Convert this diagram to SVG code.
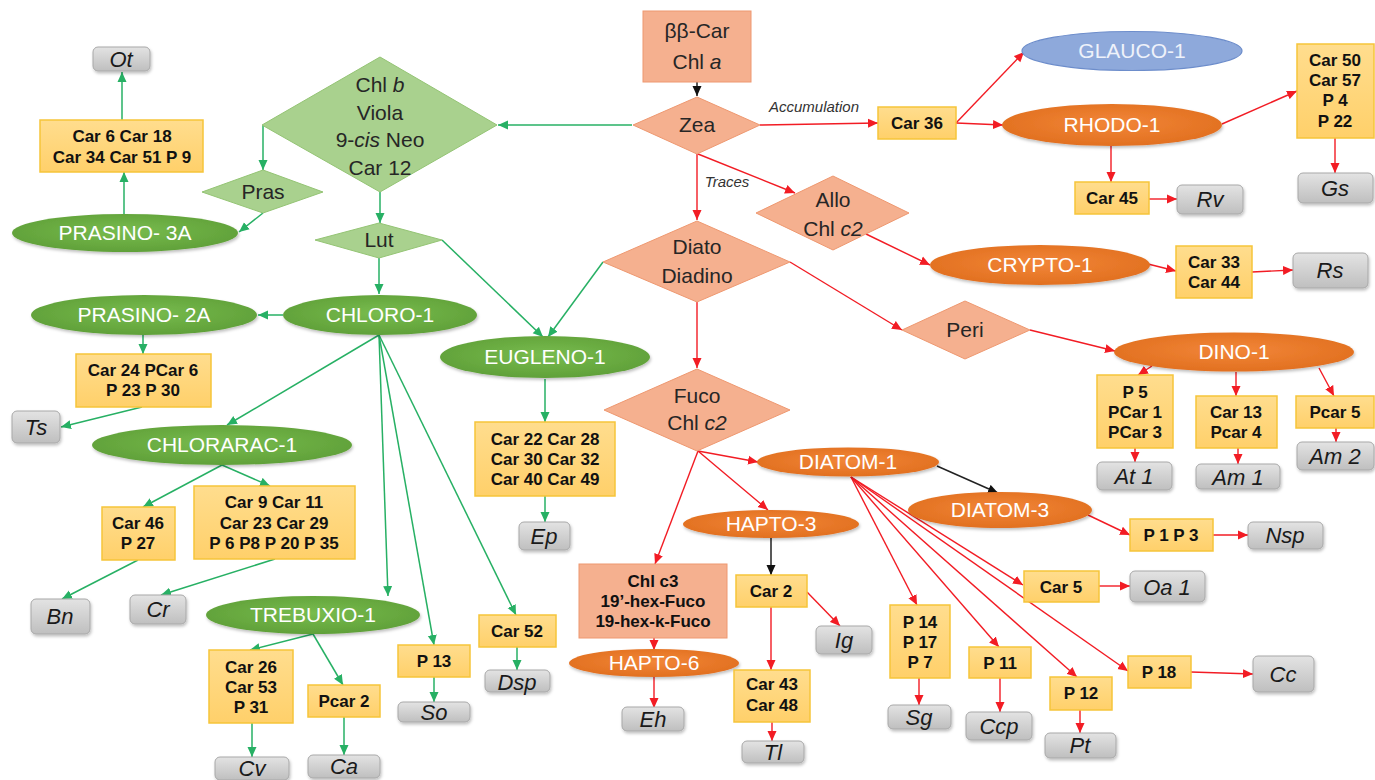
<svg xmlns="http://www.w3.org/2000/svg" width="1375" height="780" viewBox="0 0 1375 780">
<defs>
<radialGradient id="gG" cx="50%" cy="45%" r="60%"><stop offset="0" stop-color="#78BC4E"/><stop offset="1" stop-color="#5E9E37"/></radialGradient>
<radialGradient id="gO" cx="50%" cy="45%" r="60%"><stop offset="0" stop-color="#F28638"/><stop offset="1" stop-color="#E06E1E"/></radialGradient>
<linearGradient id="gY" x1="0" y1="0" x2="0" y2="1"><stop offset="0" stop-color="#FFDD8E"/><stop offset="1" stop-color="#FFD06A"/></linearGradient>
<linearGradient id="gR" x1="0" y1="0" x2="0" y2="1"><stop offset="0" stop-color="#E3E3E3"/><stop offset="1" stop-color="#BFBFBF"/></linearGradient>
<filter id="sh" x="-10%" y="-20%" width="120%" height="150%"><feDropShadow dx="1" dy="2" stdDeviation="1.5" flood-color="#000" flood-opacity="0.25"/></filter>
<marker id="ag" viewBox="0 0 10 10" refX="10" refY="5" markerWidth="10" markerHeight="10" markerUnits="userSpaceOnUse" orient="auto"><path d="M0,0.5 L10,5 L0,9.5 z" fill="#27B064"/></marker>
<marker id="ar" viewBox="0 0 10 10" refX="10" refY="5" markerWidth="10" markerHeight="10" markerUnits="userSpaceOnUse" orient="auto"><path d="M0,0.5 L10,5 L0,9.5 z" fill="#F21C24"/></marker>
<marker id="ak" viewBox="0 0 10 10" refX="10" refY="5" markerWidth="10" markerHeight="10" markerUnits="userSpaceOnUse" orient="auto"><path d="M0,0.5 L10,5 L0,9.5 z" fill="#111"/></marker>
<style>
.g{stroke:#27B064;stroke-width:1.5;fill:none;marker-end:url(#ag)}
.r{stroke:#F21C24;stroke-width:1.4;fill:none;marker-end:url(#ar)}
.k{stroke:#222;stroke-width:1.5;fill:none;marker-end:url(#ak)}
.gd{fill:#A9D18E;stroke:#94C474;stroke-width:1}
.sd{fill:#F5B08F;stroke:#EE9870;stroke-width:1}
.ge{fill:url(#gG);filter:url(#sh)}
.oe{fill:url(#gO);filter:url(#sh)}
.be{fill:#8EA9DB;stroke:#6D8DCB;stroke-width:1.2}
.yb{fill:url(#gY);stroke:#F6C53A;stroke-width:1.5}
.gb{fill:url(#gR);stroke:#A8A8A8;stroke-width:1;filter:url(#sh)}
text{font-family:"Liberation Sans",Arial,sans-serif;text-anchor:middle}
.td{font-size:21px;fill:#262626}
.te{font-size:21px;fill:#FFFFFF}
.ty{font-size:17px;font-weight:bold;fill:#111}
.tg{font-size:22px;font-style:italic;fill:#1A1A1A}
.tl{font-size:15px;font-style:italic;fill:#333}
.i{font-style:italic}
</style>
</defs>
<rect width="1375" height="780" fill="#FFFFFF"/>

<g id="connectors">
<path class="g" d="M632,125 L498,125"/>
<path class="g" d="M263,125 L263,170"/>
<path class="g" d="M263,213 L239,232"/>
<path class="g" d="M124,214 L124,172"/>
<path class="g" d="M122,120 L122,72"/>
<path class="g" d="M380,192 L380,223"/>
<path class="g" d="M379,258 L379,294"/>
<path class="g" d="M442,240 L543,337"/>
<path class="g" d="M603,262 L548,337"/>
<path class="g" d="M283,315 L258,315"/>
<path class="g" d="M143,335 L143,354"/>
<path class="g" d="M142,407 L61,427"/>
<path class="g" d="M379,335 L227,425"/>
<path class="g" d="M379,335 L388,596"/>
<path class="g" d="M379,335 L434,645"/>
<path class="g" d="M379,335 L516,615"/>
<path class="g" d="M222,465 L143,507"/>
<path class="g" d="M222,465 L270,486"/>
<path class="g" d="M138,560 L62,599"/>
<path class="g" d="M275,559 L161,595"/>
<path class="g" d="M313,634 L250,650"/>
<path class="g" d="M313,634 L343,685"/>
<path class="g" d="M252,723 L252,757"/>
<path class="g" d="M344,717 L344,755"/>
<path class="g" d="M434,677 L434,702"/>
<path class="g" d="M517,647 L517,670"/>
<path class="g" d="M545,379 L545,422"/>
<path class="g" d="M545,496 L545,522"/>

<path class="k" d="M697,82 L697,96"/>
<path class="k" d="M937,466 L998,493"/>
<path class="k" d="M771,538 L771,575"/>

<path class="r" d="M760,125 L878,123"/>
<path class="r" d="M697,154 L697,220"/>
<path class="r" d="M698,154 L795,193"/>
<path class="r" d="M866,234 L930,265"/>
<path class="r" d="M790,262 L902,330"/>
<path class="r" d="M697,302 L697,368"/>
<path class="r" d="M1030,330 L1115,351"/>
<path class="r" d="M698,451 L758,462"/>
<path class="r" d="M698,451 L768,510"/>
<path class="r" d="M698,451 L655,564"/>
<path class="r" d="M956,123 L1024,52"/>
<path class="r" d="M956,123 L1003,125"/>
<path class="r" d="M1222,124 L1297,91"/>
<path class="r" d="M1335,138 L1335,173"/>
<path class="r" d="M1111,146 L1111,182"/>
<path class="r" d="M1149,199 L1177,199"/>
<path class="r" d="M1148,264 L1176,271"/>
<path class="r" d="M1252,272 L1293,270"/>
<path class="r" d="M1152,366 L1138,375"/>
<path class="r" d="M1236,372 L1236,396"/>
<path class="r" d="M1319,368 L1334,396"/>
<path class="r" d="M1135,448 L1135,462"/>
<path class="r" d="M1238,448 L1238,464"/>
<path class="r" d="M1336,428 L1336,442"/>
<path class="r" d="M1088,515 L1130,535"/>
<path class="r" d="M1213,535 L1248,535"/>
<path class="r" d="M851,477 L917,605"/>
<path class="r" d="M851,477 L999,647"/>
<path class="r" d="M851,477 L1077,677"/>
<path class="r" d="M851,477 L1128,671"/>
<path class="r" d="M851,477 L1023,585"/>
<path class="r" d="M1099,586 L1130,586"/>
<path class="r" d="M919,678 L919,705"/>
<path class="r" d="M1000,678 L1000,712"/>
<path class="r" d="M1080,710 L1080,733"/>
<path class="r" d="M1191,672 L1253,674"/>
<path class="r" d="M807,592 L840,626"/>
<path class="r" d="M771,607 L771,670"/>
<path class="r" d="M772,722 L772,741"/>
<path class="r" d="M654,638 L654,650"/>
<path class="r" d="M654,677 L654,708"/>

<text class="tl" x="814" y="112">Accumulation</text>
<text class="tl" x="727" y="187">Traces</text>
</g>

<g id="n-bbcar"><rect x="643" y="11" width="108" height="71" class="sd"/><text class="td" x="697" y="38">ββ-Car</text><text class="td" x="697" y="69">Chl <tspan class="i">a</tspan></text></g>
<g id="n-zea"><polygon points="697,97 760,125 697,154 633,125" class="sd"/><text class="td" x="697" y="132">Zea</text></g>
<g id="n-chlb"><polygon points="380,57 497,125 380,192 262,125" class="gd"/><text class="td" x="380" y="92">Chl <tspan class="i">b</tspan></text><text class="td" x="380" y="120">Viola</text><text class="td" x="380" y="147">9-<tspan class="i">cis</tspan> Neo</text><text class="td" x="380" y="175">Car 12</text></g>
<g id="n-pras"><polygon points="263,170 323,192 263,213 202,192" class="gd"/><text class="td" x="263" y="199">Pras</text></g>
<g id="n-lut"><polygon points="379,223 442,240 379,258 315,240" class="gd"/><text class="td" x="379" y="247">Lut</text></g>
<g id="n-allo"><polygon points="833,176 909,213 833,250 756,213" class="sd"/><text class="td" x="833" y="207">Allo</text><text class="td" x="833" y="236">Chl <tspan class="i">c2</tspan></text></g>
<g id="n-diato"><polygon points="697,221 790,262 697,302 603,262" class="sd"/><text class="td" x="697" y="254">Diato</text><text class="td" x="697" y="283">Diadino</text></g>
<g id="n-fuco"><polygon points="697,369 790,410 697,451 604,410" class="sd"/><text class="td" x="697" y="403">Fuco</text><text class="td" x="697" y="430">Chl <tspan class="i">c2</tspan></text></g>
<g id="n-peri"><polygon points="965,301 1030,330 965,359 902,330" class="sd"/><text class="td" x="965" y="337">Peri</text></g>

<g id="n-prasino3a"><ellipse cx="125" cy="233" rx="113" ry="19" class="ge"/><text class="te" x="125" y="240">PRASINO- 3A</text></g>
<g id="n-prasino2a"><ellipse cx="144" cy="315" rx="113" ry="20" class="ge"/><text class="te" x="144" y="322">PRASINO- 2A</text></g>
<g id="n-chloro1"><ellipse cx="380" cy="315" rx="97" ry="20" class="ge"/><text class="te" x="380" y="322">CHLORO-1</text></g>
<g id="n-chlorarac1"><ellipse cx="222" cy="445" rx="130" ry="20" class="ge"/><text class="te" x="222" y="452">CHLORARAC-1</text></g>
<g id="n-trebuxio1"><ellipse cx="313" cy="615" rx="107" ry="19" class="ge"/><text class="te" x="313" y="622">TREBUXIO-1</text></g>
<g id="n-eugleno1"><ellipse cx="545" cy="357" rx="105" ry="21" class="ge"/><text class="te" x="545" y="364">EUGLENO-1</text></g>
<g id="n-glauco1"><ellipse cx="1132" cy="51" rx="110" ry="19.5" class="be"/><text class="te" x="1132" y="58" style="fill:#EEF2FA">GLAUCO-1</text></g>
<g id="n-rhodo1"><ellipse cx="1112" cy="125" rx="110" ry="21" class="oe"/><text class="te" x="1112" y="132">RHODO-1</text></g>
<g id="n-crypto1"><ellipse cx="1040" cy="265" rx="110" ry="20" class="oe"/><text class="te" x="1040" y="272">CRYPTO-1</text></g>
<g id="n-dino1"><ellipse cx="1234" cy="352" rx="120" ry="19.5" class="oe"/><text class="te" x="1234" y="359">DINO-1</text></g>
<g id="n-diatom1"><ellipse cx="848" cy="462" rx="91" ry="14.5" class="oe"/><text class="te" x="848" y="469">DIATOM-1</text></g>
<g id="n-diatom3"><ellipse cx="1000" cy="510" rx="92" ry="18" class="oe"/><text class="te" x="1000" y="517">DIATOM-3</text></g>
<g id="n-hapto3"><ellipse cx="771" cy="524" rx="88" ry="14" class="oe"/><text class="te" x="771" y="531">HAPTO-3</text></g>
<g id="n-hapto6"><ellipse cx="654" cy="663" rx="85" ry="14" class="oe"/><text class="te" x="654" y="670">HAPTO-6</text></g>

<g id="n-chlc3"><rect x="579" y="564" width="148" height="74" class="sd"/><text class="ty" x="653" y="587">Chl c3</text><text class="ty" x="653" y="607">19’-hex-Fuco</text><text class="ty" x="653" y="627">19-hex-k-Fuco</text></g>

<g id="n-b-car6"><rect x="40" y="120" width="163" height="52" class="yb"/><text class="ty" x="122" y="142">Car 6 Car 18</text><text class="ty" x="122" y="163">Car 34 Car 51 P 9</text></g>
<g id="n-b-car24"><rect x="76" y="354" width="135" height="53" class="yb"/><text class="ty" x="143" y="376">Car 24 PCar 6</text><text class="ty" x="143" y="396">P 23 P 30</text></g>
<g id="n-b-car46"><rect x="102" y="507" width="73" height="53" class="yb"/><text class="ty" x="138" y="529">Car 46</text><text class="ty" x="138" y="549">P 27</text></g>
<g id="n-b-car9"><rect x="194" y="486" width="161" height="73" class="yb"/><text class="ty" x="274" y="508">Car 9 Car 11</text><text class="ty" x="274" y="529">Car 23 Car 29</text><text class="ty" x="274" y="549">P 6 P8 P 20 P 35</text></g>
<g id="n-b-car26"><rect x="209" y="650" width="84" height="73" class="yb"/><text class="ty" x="251" y="673">Car 26</text><text class="ty" x="251" y="693">Car 53</text><text class="ty" x="251" y="713">P 31</text></g>
<g id="n-b-pcar2"><rect x="308" y="685" width="72" height="32" class="yb"/><text class="ty" x="344" y="707">Pcar 2</text></g>
<g id="n-b-p13"><rect x="398" y="645" width="72" height="32" class="yb"/><text class="ty" x="434" y="667">P 13</text></g>
<g id="n-b-car52"><rect x="479" y="615" width="77" height="32" class="yb"/><text class="ty" x="517" y="637">Car 52</text></g>
<g id="n-b-car22"><rect x="475" y="422" width="140" height="74" class="yb"/><text class="ty" x="545" y="445">Car 22 Car 28</text><text class="ty" x="545" y="465">Car 30 Car 32</text><text class="ty" x="545" y="485">Car 40 Car 49</text></g>
<g id="n-b-car36"><rect x="878" y="107" width="78" height="32" class="yb"/><text class="ty" x="917" y="129">Car 36</text></g>
<g id="n-b-car50"><rect x="1297" y="44" width="77" height="94" class="yb"/><text class="ty" x="1335" y="66">Car 50</text><text class="ty" x="1335" y="86">Car 57</text><text class="ty" x="1335" y="106">P 4</text><text class="ty" x="1335" y="127">P 22</text></g>
<g id="n-b-car45"><rect x="1075" y="182" width="74" height="32" class="yb"/><text class="ty" x="1112" y="204">Car 45</text></g>
<g id="n-b-car33"><rect x="1176" y="246" width="76" height="52" class="yb"/><text class="ty" x="1214" y="268">Car 33</text><text class="ty" x="1214" y="288">Car 44</text></g>
<g id="n-b-p5"><rect x="1097" y="375" width="76" height="73" class="yb"/><text class="ty" x="1135" y="398">P 5</text><text class="ty" x="1135" y="418">PCar 1</text><text class="ty" x="1135" y="438">PCar 3</text></g>
<g id="n-b-car13"><rect x="1196" y="396" width="81" height="52" class="yb"/><text class="ty" x="1236" y="418">Car 13</text><text class="ty" x="1236" y="438">Pcar 4</text></g>
<g id="n-b-pcar5"><rect x="1296" y="396" width="78" height="32" class="yb"/><text class="ty" x="1335" y="418">Pcar 5</text></g>
<g id="n-b-p1p3"><rect x="1130" y="519" width="83" height="32" class="yb"/><text class="ty" x="1171" y="541">P 1 P 3</text></g>
<g id="n-b-car5"><rect x="1024" y="571" width="75" height="31" class="yb"/><text class="ty" x="1061" y="593">Car 5</text></g>
<g id="n-b-p14"><rect x="890" y="605" width="60" height="73" class="yb"/><text class="ty" x="920" y="628">P 14</text><text class="ty" x="920" y="648">P 17</text><text class="ty" x="920" y="668">P 7</text></g>
<g id="n-b-p11"><rect x="969" y="647" width="62" height="31" class="yb"/><text class="ty" x="1000" y="669">P 11</text></g>
<g id="n-b-p12"><rect x="1050" y="677" width="62" height="33" class="yb"/><text class="ty" x="1081" y="699">P 12</text></g>
<g id="n-b-p18"><rect x="1128" y="656" width="63" height="32" class="yb"/><text class="ty" x="1159" y="678">P 18</text></g>
<g id="n-b-car2"><rect x="736" y="575" width="71" height="32" class="yb"/><text class="ty" x="771" y="597">Car 2</text></g>
<g id="n-b-car43"><rect x="734" y="670" width="76" height="52" class="yb"/><text class="ty" x="772" y="690">Car 43</text><text class="ty" x="772" y="711">Car 48</text></g>

<g id="n-ot"><rect x="93" y="47" width="57" height="24" rx="5" class="gb"/><text class="tg" x="121" y="67">Ot</text></g>
<g id="n-ts"><rect x="12" y="411" width="48" height="32" rx="5" class="gb"/><text class="tg" x="36" y="435">Ts</text></g>
<g id="n-bn"><rect x="31" y="599" width="59" height="35" rx="5" class="gb"/><text class="tg" x="60" y="624">Bn</text></g>
<g id="n-cr"><rect x="130" y="595" width="56" height="29" rx="5" class="gb"/><text class="tg" x="158" y="617">Cr</text></g>
<g id="n-cv"><rect x="215" y="757" width="74" height="23" rx="5" class="gb"/><text class="tg" x="252" y="776">Cv</text></g>
<g id="n-ca"><rect x="308" y="755" width="72" height="23" rx="5" class="gb"/><text class="tg" x="344" y="774">Ca</text></g>
<g id="n-so"><rect x="398" y="702" width="72" height="20" rx="5" class="gb"/><text class="tg" x="434" y="720">So</text></g>
<g id="n-dsp"><rect x="485" y="670" width="65" height="22" rx="5" class="gb"/><text class="tg" x="517" y="690">Dsp</text></g>
<g id="n-ep"><rect x="519" y="522" width="51" height="28" rx="5" class="gb"/><text class="tg" x="544" y="544">Ep</text></g>
<g id="n-eh"><rect x="622" y="707" width="62" height="24" rx="5" class="gb"/><text class="tg" x="653" y="727">Eh</text></g>
<g id="n-tl"><rect x="742" y="741" width="62" height="22" rx="5" class="gb"/><text class="tg" x="773" y="760">Tl</text></g>
<g id="n-ig"><rect x="816" y="626" width="56" height="28" rx="5" class="gb"/><text class="tg" x="844" y="648">Ig</text></g>
<g id="n-sg"><rect x="888" y="705" width="63" height="24" rx="5" class="gb"/><text class="tg" x="919" y="725">Sg</text></g>
<g id="n-ccp"><rect x="966" y="712" width="66" height="28" rx="5" class="gb"/><text class="tg" x="999" y="734">Ccp</text></g>
<g id="n-pt"><rect x="1045" y="733" width="71" height="25" rx="5" class="gb"/><text class="tg" x="1080" y="753">Pt</text></g>
<g id="n-cc"><rect x="1253" y="656" width="61" height="36" rx="5" class="gb"/><text class="tg" x="1283" y="682">Cc</text></g>
<g id="n-oa1"><rect x="1130" y="571" width="75" height="31" rx="5" class="gb"/><text class="tg" x="1167" y="595">Oa 1</text></g>
<g id="n-nsp"><rect x="1248" y="522" width="75" height="27" rx="5" class="gb"/><text class="tg" x="1285" y="543">Nsp</text></g>
<g id="n-at1"><rect x="1097" y="462" width="75" height="28" rx="5" class="gb"/><text class="tg" x="1134" y="484">At 1</text></g>
<g id="n-am1"><rect x="1196" y="464" width="84" height="25" rx="5" class="gb"/><text class="tg" x="1238" y="485">Am 1</text></g>
<g id="n-am2"><rect x="1297" y="442" width="77" height="28" rx="5" class="gb"/><text class="tg" x="1335" y="464">Am 2</text></g>
<g id="n-rs"><rect x="1293" y="253" width="75" height="35" rx="5" class="gb"/><text class="tg" x="1330" y="278">Rs</text></g>
<g id="n-rv"><rect x="1177" y="185" width="66" height="29" rx="5" class="gb"/><text class="tg" x="1210" y="207">Rv</text></g>
<g id="n-gs"><rect x="1298" y="173" width="75" height="30" rx="5" class="gb"/><text class="tg" x="1335" y="196">Gs</text></g>
</svg>
